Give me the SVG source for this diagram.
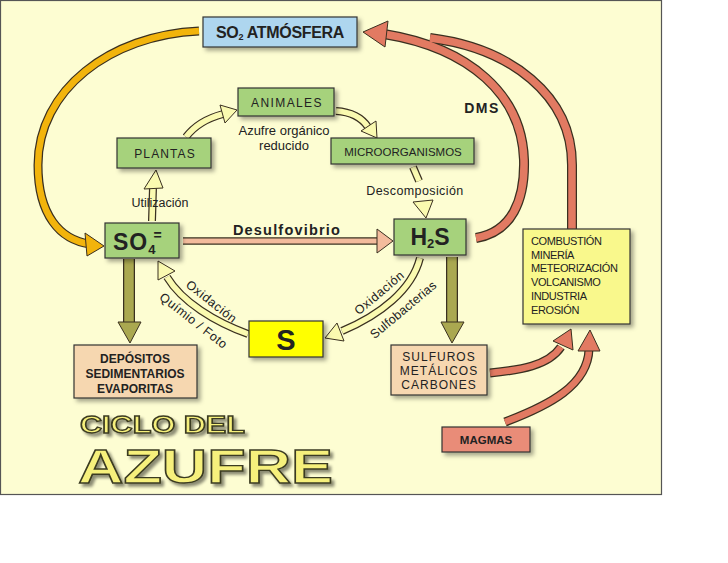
<svg xmlns="http://www.w3.org/2000/svg" width="728" height="563" viewBox="0 0 728 563">
<defs>
<filter id="sh" x="-20%" y="-20%" width="150%" height="160%">
<feDropShadow dx="3" dy="3" stdDeviation="2" flood-color="#000" flood-opacity="0.35"/>
</filter>
<filter id="tsh" x="-10%" y="-20%" width="130%" height="160%">
<feDropShadow dx="3" dy="3" stdDeviation="1.5" flood-color="#000" flood-opacity="0.45"/>
</filter>
</defs>
<style>
.box{stroke:#333;stroke-width:1.2;filter:url(#sh)}
.g{fill:#a6d27c}
.pe{fill:#f6d7b0}
.t{font-family:"Liberation Sans",Arial,sans-serif;fill:#222}
.ol{fill:none;stroke:#3a3020;stroke-linecap:butt}
.head{stroke:#3a3020;stroke-width:1;stroke-linejoin:round}
.yl{fill:none;stroke:#fafab0}
.yh{fill:#fafab0}
.rd{fill:none;stroke:#e27a62}
.rh{fill:#e27a62}
.title{font-family:"Liberation Sans",Arial,sans-serif;font-weight:bold;fill:#f6f07c;stroke:#3a3a20;stroke-width:1.3;filter:url(#tsh)}
</style>
<rect x="0" y="0" width="728" height="563" fill="#fff"/>
<rect x="0.5" y="0.5" width="661" height="494" fill="#fdfdd2" stroke="#555" stroke-width="1.2"/>

<g id="connectors">
<!-- SO2 -> SO4 yellow arc -->
<path class="ol" stroke-width="9" d="M199,31 C110,35 38,90 38,165 C38,215 60,240 90,244"/>
<path fill="none" stroke="#f2b40c" stroke-width="6.5" d="M199,31 C110,35 38,90 38,165 C38,215 60,240 90,244"/>
<polygon class="head" fill="#f2b40c" points="104,246 85,233 87,256"/>
<!-- H2S -> SO2 red (DMS) -->
<path class="ol" stroke-width="10" d="M476,238 C512,232 525,200 524,160 C522,95 470,48 384,34"/>
<path class="ol" stroke-width="10" d="M572,229 L572,165 C572,95 510,48 430,38"/>
<path class="rd" stroke-width="7.5" d="M476,238 C512,232 525,200 524,160 C522,95 470,48 384,34"/>
<path class="rd" stroke-width="7.5" d="M572,229 L572,165 C572,95 510,48 430,38"/>
<polygon class="head rh" points="363,32 388,21 385,47"/>
<!-- SO4 -> H2S salmon -->
<path class="ol" stroke-width="7.5" d="M183,241 L378,241"/>
<path fill="none" stroke="#f3bb9c" stroke-width="5" d="M183,241 L378,241"/>
<polygon class="head" fill="#f3bb9c" points="393,241 377,229 377,253"/>
<!-- olive arrows down -->
<path class="ol" stroke-width="12" d="M129,259 L129,323"/>
<path fill="none" stroke="#aaa850" stroke-width="9.5" d="M129,259 L129,323"/>
<polygon class="head" fill="#aaa850" points="118,322 141,322 130,343"/>
<path class="ol" stroke-width="12" d="M452,257 L452,323"/>
<path fill="none" stroke="#aaa850" stroke-width="9.5" d="M452,257 L452,323"/>
<polygon class="head" fill="#aaa850" points="441,322 464,322 452,343"/>
<!-- Utilizacion SO4 -> PLANTAS -->
<path class="ol" stroke-width="8" d="M152,221 L153,187"/>
<path class="yl" stroke-width="5.5" d="M152,221 L153,187"/>
<polygon class="head yh" points="144,189 163,188 156,170"/>
<!-- PLANTAS -> ANIMALES -->
<path class="ol" stroke-width="8" d="M186,137 C195,125 208,118 223,114"/>
<path class="yl" stroke-width="5.5" d="M186,137 C195,125 208,118 223,114"/>
<polygon class="head yh" points="237,110 220,105 225,123"/>
<!-- ANIMALES -> MICRO -->
<path class="ol" stroke-width="8" d="M336,111 C352,112 362,118 368,127"/>
<path class="yl" stroke-width="5.5" d="M336,111 C352,112 362,118 368,127"/>
<polygon class="head yh" points="377,138 376,121 361,131"/>
<!-- MICRO -> H2S -->
<path class="ol" stroke-width="8" d="M413,167 L419,181"/>
<path class="yl" stroke-width="5.5" d="M413,167 L419,181"/>
<polygon class="head yh" points="426,218 413,202 433,200"/>
<!-- H2S -> S -->
<path class="ol" stroke-width="8" d="M420,258 C412,290 380,315 342,331"/>
<path class="yl" stroke-width="5.5" d="M420,258 C412,290 380,315 342,331"/>
<polygon class="head yh" points="325,338 344,341 337,323"/>
<!-- S -> SO4 -->
<path class="ol" stroke-width="8" d="M248,334 C215,322 182,302 167,277"/>
<path class="yl" stroke-width="5.5" d="M248,334 C215,322 182,302 167,277"/>
<polygon class="head yh" points="158,261 175,271 158,280"/>
<!-- SULFUROS -> COMBUSTION -->
<path class="ol" stroke-width="9" d="M490,373 C520,370 548,366 561,347"/>
<path class="rd" stroke-width="6.5" d="M490,373 C520,370 548,366 561,347"/>
<polygon class="head rh" points="571,329 573,350 553,341"/>
<!-- MAGMAS -> COMBUSTION -->
<path class="ol" stroke-width="9" d="M505,422 C550,405 588,385 589,349"/>
<path class="rd" stroke-width="6.5" d="M505,422 C550,405 588,385 589,349"/>
<polygon class="head rh" points="590,330 600,351 578,351"/>
</g>

<g id="labels">
<text class="t" x="160" y="207" font-size="12.5" text-anchor="middle">Utilización</text>
<text class="t" x="284" y="135" font-size="13" text-anchor="middle">Azufre orgánico</text>
<text class="t" x="284" y="150" font-size="13" text-anchor="middle">reducido</text>
<text class="t" x="415" y="195" font-size="12.5" text-anchor="middle" letter-spacing="0.4">Descomposición</text>
<text class="t" x="287" y="235" font-size="14.5" font-weight="bold" text-anchor="middle" letter-spacing="1.2">Desulfovibrio</text>
<text class="t" x="482" y="113" font-size="14" font-weight="bold" text-anchor="middle" letter-spacing="1.5">DMS</text>
<text class="t" font-size="12.5" letter-spacing="0.6" text-anchor="middle" transform="translate(209,305) rotate(38)">Oxidación</text>
<text class="t" font-size="12.5" letter-spacing="0.5" text-anchor="middle" transform="translate(191,324) rotate(38)">Químio / Foto</text>
<text class="t" font-size="12.5" letter-spacing="0.6" text-anchor="middle" transform="translate(382,296) rotate(-40)">Oxidación</text>
<text class="t" font-size="12.5" letter-spacing="0.2" text-anchor="middle" transform="translate(406,313) rotate(-40)">Sulfobacterias</text>
</g>

<g id="so2">
<rect class="box" x="203" y="17" width="154" height="30" fill="#aed6ef"/>
<text class="t" x="280" y="38" font-size="16" font-weight="bold" text-anchor="middle" letter-spacing="-0.3">SO<tspan font-size="9" dy="2">2</tspan><tspan dy="-2"> ATMÓSFERA</tspan></text>
</g>
<g id="animales">
<rect class="box g" x="238" y="88" width="96" height="28"/>
<text class="t" x="287" y="107" font-size="12" text-anchor="middle" letter-spacing="1.4">ANIMALES</text>
</g>
<g id="plantas">
<rect class="box g" x="117" y="138" width="94" height="30"/>
<text class="t" x="165" y="158" font-size="12" text-anchor="middle" letter-spacing="1.1">PLANTAS</text>
</g>
<g id="micro">
<rect class="box g" x="331" y="138" width="143" height="26"/>
<text class="t" x="403" y="156" font-size="11.5" text-anchor="middle">MICROORGANISMOS</text>
</g>
<g id="so4">
<rect class="box g" x="105" y="223" width="74" height="35"/>
<text class="t" x="113" y="250" font-size="23" font-weight="bold" letter-spacing="1">SO<tspan font-size="13" dy="4">4</tspan><tspan font-size="14" dx="-3" dy="-14">=</tspan></text>
</g>
<g id="h2s">
<rect class="box g" x="394" y="219" width="72" height="36"/>
<text class="t" x="430" y="245" font-size="23" font-weight="bold" text-anchor="middle">H<tspan font-size="13" dy="3">2</tspan><tspan dy="-3">S</tspan></text>
</g>
<g id="s">
<rect class="box" x="249" y="321" width="74" height="36" fill="#ffff00"/>
<text class="t" x="286" y="350" font-size="29" font-weight="bold" text-anchor="middle">S</text>
</g>
<g id="depositos">
<rect class="box pe" x="74" y="345" width="123" height="53"/>
<text class="t" x="135" y="363" font-size="12" font-weight="bold" text-anchor="middle">DEPÓSITOS</text>
<text class="t" x="135" y="378" font-size="12" font-weight="bold" text-anchor="middle">SEDIMENTARIOS</text>
<text class="t" x="135" y="393" font-size="12" font-weight="bold" text-anchor="middle">EVAPORITAS</text>
</g>
<g id="sulfuros">
<rect class="box pe" x="391" y="345" width="96" height="50"/>
<text class="t" x="439" y="361" font-size="12" text-anchor="middle" letter-spacing="1">SULFUROS</text>
<text class="t" x="439" y="375" font-size="12" text-anchor="middle" letter-spacing="1">METÁLICOS</text>
<text class="t" x="439" y="389" font-size="12" text-anchor="middle" letter-spacing="1">CARBONES</text>
</g>
<g id="combustion">
<rect class="box" x="523" y="229" width="107" height="95" fill="#f9f88c"/>
<text class="t" font-size="11" letter-spacing="-0.4">
<tspan x="531" y="245">COMBUSTIÓN</tspan>
<tspan x="531" y="259">MINERÍA</tspan>
<tspan x="531" y="272">METEORIZACIÓN</tspan>
<tspan x="531" y="286">VOLCANISMO</tspan>
<tspan x="531" y="300">INDUSTRIA</tspan>
<tspan x="531" y="314">EROSIÓN</tspan>
</text>
</g>
<g id="magmas">
<rect class="box" x="442" y="427" width="88" height="25" fill="#e98c78"/>
<text class="t" x="486" y="444" font-size="11.5" font-weight="bold" text-anchor="middle">MAGMAS</text>
</g>

<g id="title">
<text class="title" x="80" y="433" font-size="23" textLength="165" lengthAdjust="spacingAndGlyphs">CICLO DEL</text>
<text class="title" x="78" y="483" font-size="48" textLength="255" lengthAdjust="spacingAndGlyphs">AZUFRE</text>
</g>
</svg>
